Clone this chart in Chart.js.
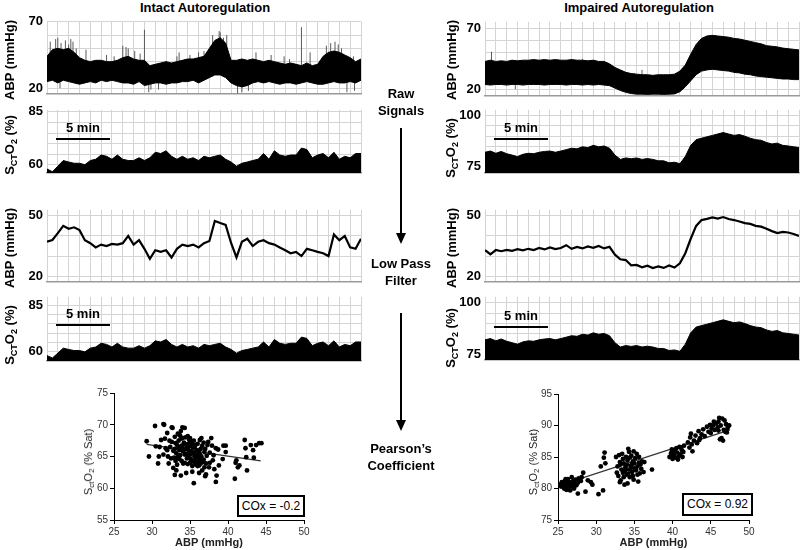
<!DOCTYPE html>
<html>
<head>
<meta charset="utf-8">
<script src="https://cdn.jsdelivr.net/npm/chart.js@4.4.1/dist/chart.umd.min.js"></script>
<style>
  body { margin: 0; background: #fff; }
  #page { position: relative; width: 800px; height: 550px; overflow: hidden; font-family: "Liberation Sans", Arial, sans-serif; color: #000; }
  canvas { position: absolute; }
  .head { position: absolute; top: 0; font-weight: bold; font-size: 13px; transform: translateX(-50%); white-space: nowrap; }
  .ytitle { position: absolute; font-weight: bold; font-size: 13px; white-space: nowrap; transform: translate(-50%, -50%) rotate(-90deg); }
  .ytitle.small { font-weight: normal; font-size: 11px; color: #222; }
  sub { font-size: 9px; vertical-align: -3px; line-height: 0; }
  .small sub { font-size: 8px; vertical-align: -2px; }
  .scale { position: absolute; font-weight: bold; font-size: 13px; width: 54px; text-align: center; }
  .scale div { border-top: 2.5px solid #000; margin-top: 3px; }
  .mid { position: absolute; left: 341px; width: 120px; text-align: center; font-weight: bold; font-size: 13px; line-height: 17px; }
  .cox { position: absolute; border: 2px solid #000; font-size: 12px; text-align: center; line-height: 18px; background: #fff; }
  svg { position: absolute; left: 0; top: 0; }
</style>
</head>
<body>
<div id="page">
  <div class="head" style="left:205px">Intact Autoregulation</div>
  <div class="head" style="left:639px">Impaired Autoregulation</div>

  <canvas id="sL1" width="360" height="96" style="left:2px;top:10px"></canvas>
  <canvas id="sL2" width="360" height="87" style="left:2px;top:98px"></canvas>
  <canvas id="sL3" width="360" height="96" style="left:2px;top:198px"></canvas>
  <canvas id="sL4" width="360" height="88" style="left:2px;top:285px"></canvas>
  <canvas id="sR1" width="360" height="98" style="left:440px;top:10px"></canvas>
  <canvas id="sR2" width="360" height="87" style="left:440px;top:98px"></canvas>
  <canvas id="sR3" width="360" height="96" style="left:440px;top:198px"></canvas>
  <canvas id="sR4" width="360" height="87" style="left:440px;top:285px"></canvas>
  <canvas id="scatL" width="230" height="165" style="left:84px;top:385px"></canvas>
  <canvas id="scatR" width="231" height="164" style="left:528px;top:386px"></canvas>

  <div class="ytitle" style="left:9px;top:60px">ABP (mmHg)</div>
  <div class="ytitle" style="left:9px;top:145px">S<sub>CT</sub>O<sub>2</sub> (%)</div>
  <div class="ytitle" style="left:9px;top:248px">ABP (mmHg)</div>
  <div class="ytitle" style="left:9px;top:335px">S<sub>CT</sub>O<sub>2</sub> (%)</div>
  <div class="ytitle" style="left:451px;top:60px">ABP (mmHg)</div>
  <div class="ytitle" style="left:450px;top:148px">S<sub>CT</sub>O<sub>2</sub> (%)</div>
  <div class="ytitle" style="left:451px;top:248px">ABP (mmHg)</div>
  <div class="ytitle" style="left:450px;top:338px">S<sub>CT</sub>O<sub>2</sub> (%)</div>
  <div class="ytitle small" style="left:88px;top:462px">S<sub>ct</sub>O<sub>2</sub> (% Sat)</div>
  <div class="ytitle small" style="left:533px;top:462px">S<sub>ct</sub>O<sub>2</sub> (% Sat)</div>

  <div class="scale" style="left:56px;top:120px">5 min<div></div></div>
  <div class="scale" style="left:56px;top:306px">5 min<div></div></div>
  <div class="scale" style="left:494px;top:120px">5 min<div></div></div>
  <div class="scale" style="left:494px;top:308px">5 min<div></div></div>

  <div class="mid" style="top:85px">Raw<br>Signals</div>
  <div class="mid" style="top:255px">Low Pass<br>Filter</div>
  <div class="mid" style="top:440px">Pearson’s<br>Coefficient</div>
  <svg width="800" height="550">
    <line x1="401" y1="128" x2="401" y2="236" stroke="#000" stroke-width="2"/>
    <polygon points="396,233 406,233 401,244" fill="#000"/>
    <line x1="401" y1="313" x2="401" y2="423" stroke="#000" stroke-width="2"/>
    <polygon points="396,420 406,420 401,431" fill="#000"/>
  </svg>

  <div class="cox" style="left:237px;top:495px;width:64px;height:18px">COx = -0.2</div>
  <div class="cox" style="left:682px;top:493px;width:67px;height:19px">COx = 0.92</div>
</div>

<script>
Chart.defaults.font.family = '"Liberation Sans", Arial, sans-serif';

// sample times in minutes (every 30 s over the 29 min recording)
const minutes = Array.from({ length: 59 }, (_, i) => i / 2);

// intact autoregulation, raw ABP band (upper / lower envelope, mmHg)
const abpRawLeftHigh = [44, 49, 50, 49, 50, 47, 43, 41, 40, 41,
  41, 40, 40, 41, 43, 44, 42, 41, 41, 37,
  38, 39, 40, 39, 40, 41, 42, 42, 43, 44,
  50, 56, 58, 54, 41, 41, 42, 41, 42, 41,
  40, 41, 40, 39, 38, 39, 38, 37, 39, 37,
  38, 44, 47, 48, 47, 45, 43, 40, 42];
const abpRawLeftLow = [25, 26, 24, 26, 25, 24, 23, 24, 25, 24,
  26, 25, 26, 25, 24, 24, 23, 25, 22, 23,
  24, 24, 23, 24, 24, 25, 25, 26, 24, 26,
  28, 30, 30, 28, 24, 22, 21, 22, 24, 25,
  24, 25, 24, 23, 24, 24, 23, 24, 25, 24,
  23, 23, 24, 25, 24, 24, 25, 24, 26];
const spikeLeftTime = [0.3, 0.8, 1.0, 1.3, 1.7, 2.0, 2.2, 2.4, 2.7, 3.6, 5.5, 6.2, 7.0, 7.3, 7.5, 8.1, 8.6, 9.0, 12.0, 12.2,
  13.2, 14.0, 14.5, 15.3, 15.9, 16.0, 16.3, 16.6, 19.3, 20.7, 21.9, 22.4, 23.5, 24.3, 25.8, 26.2, 26.6, 26.9, 27.2, 28.3,
  1.2, 9.4, 9.6, 10.3, 17.6, 18.0, 18.6, 27.7, 28.4];
const spikeLeftTop = [55, 57, 58, 54, 56, 53, 57, 55, 50, 49, 45, 44, 52, 51, 50, 48, 46, 64, 44, 47,
  45, 47, 48, 60, 63, 62, 58, 60, 47, 45, 44, 42, 66, 47, 52, 54, 55, 53, 50, 44,
  30, 30, 30, 30, 30, 30, 30, 30, 30];
const spikeLeftBottom = [30, 30, 30, 30, 30, 30, 30, 30, 30, 25, 30, 30, 30, 30, 30, 25, 30, 30, 30, 30,
  30, 30, 30, 30, 30, 30, 30, 30, 28, 30, 30, 30, 30, 30, 30, 30, 30, 30, 30, 30,
  20, 17, 19, 19, 16, 17, 18, 17, 18];

// intact autoregulation, SctO2 (%)
const sctLeft = [58, 56.7, 59.3, 62, 61.3, 60.7, 60.7, 60, 62, 62.6,
  64.6, 64, 62.6, 64.6, 62.6, 62, 62, 63.3, 62, 63.3,
  65.9, 65.3, 66.6, 64, 62.6, 64, 62.6, 63.3, 62, 64,
  63.3, 64, 64.6, 62.6, 61.3, 59.3, 60.7, 61.3, 62, 62.6,
  65.3, 62.6, 66.6, 64.6, 64, 64.6, 64.6, 67.9, 67.2, 63.3,
  64.6, 65.3, 63.3, 65.9, 62.6, 64, 63.3, 65.3, 65.3];

// intact autoregulation, low pass ABP (mmHg)
const abpLpfLeft = [37.1, 38.0, 41.4, 45.0, 43.6, 44.3, 42.9, 37.9, 36.4, 34.3,
  35.7, 35.0, 36.0, 35.7, 36.4, 40.0, 35.7, 37.9, 33.6, 28.6,
  32.9, 32.1, 32.9, 29.3, 33.6, 35.7, 35.0, 35.7, 34.3, 36.4,
  37.5, 47.4, 46.4, 45.5, 36.5, 29.3, 37.1, 38.6, 35.0, 37.1,
  37.9, 36.4, 35.7, 34.3, 32.9, 31.4, 32.1, 30.0, 33.6, 32.9,
  32.1, 31.4, 30.0, 40.7, 37.9, 40.0, 34.3, 33.6, 38.6];

// impaired autoregulation, raw ABP band (mmHg)
const abpRawRightHigh = [43, 44, 43, 43.5, 43, 44, 43.5, 44, 44, 44.5,
  44, 44.5, 44, 44.5, 44, 44, 44.5, 44, 44, 43.5,
  44, 43, 43, 41, 38, 36, 34, 33, 32.5, 32,
  32, 31.5, 32, 32, 32, 32.5, 35, 40, 49, 57,
  62, 64, 64.5, 64, 63.5, 63, 62, 61.5, 60.5, 59.5,
  58.5, 57.5, 56, 55.5, 55, 54, 53.5, 53, 52.5];
const abpRawRightLow = [24, 23.5, 24, 24, 23.5, 24, 24, 23.5, 24, 24,
  24, 23.5, 24, 24, 24, 23.5, 24, 24, 23.5, 24,
  23.5, 24, 23.5, 23, 21, 19, 17.5, 16.5, 16, 16,
  15.8, 16, 16, 15.8, 16, 16.2, 18, 22, 27, 32,
  35, 36, 36.5, 36, 35.5, 35, 34, 33.5, 32.5, 32,
  31, 30.5, 30, 29.5, 29, 28.5, 28.5, 28, 28];
const spikeRightTime = [0.6, 2.8, 9.0, 12.6, 13.8, 14.5];
const spikeRightTop = [51, 44, 45, 35, 33, 36];
const spikeRightBottom = [30, 20, 30, 20, 16, 18];

// impaired autoregulation, SctO2 (%)
const sctRight = [82, 82.6, 81.5, 82.4, 81.3, 80.6, 79.9, 81, 81.5, 81.3,
  82, 82.4, 82.6, 82, 82.6, 83.3, 84, 83.7, 84.7, 84.3,
  85.4, 84.7, 85.1, 84, 80.6, 78.5, 79.2, 78.8, 79.2, 78.5,
  78.9, 78.5, 77.8, 77.8, 76.8, 77.1, 76.4, 79.9, 85.4, 88.2,
  88.9, 89.6, 90.3, 91, 91.7, 91, 90.3, 90.7, 89.9, 88.9,
  88.2, 87.9, 86.8, 86.1, 86.5, 85.4, 85.1, 84.7, 84.3];

// impaired autoregulation, low pass ABP (mmHg)
const abpLpfRight = [32.9, 30.9, 33.0, 32.4, 33.1, 32.6, 33.4, 32.8, 33.6, 33.0,
  34.0, 33.3, 34.3, 33.5, 34.0, 35.4, 33.6, 34.5, 33.8, 34.8,
  34.1, 35.0, 33.8, 34.6, 30.7, 28.4, 28.0, 25.4, 25.6, 24.4,
  25.2, 24.0, 24.8, 24.1, 25.3, 24.3, 26.4, 31.4, 38.6, 45.0,
  47.9, 48.5, 49.2, 48.6, 49.4, 48.4, 47.9, 47.2, 46.4, 46.0,
  45.0, 44.6, 43.6, 42.4, 41.4, 42.0, 41.7, 41.0, 40.0];

// scatter: ABP vs SctO2, intact
const scatterLeftAbp = [29.3, 29.6, 30.4, 30.8, 31.5, 31.6, 30.9, 31.2, 31.5, 31.7, 32.0, 32.1, 32.4, 32.6, 32.7, 32.8, 33.0, 33.2, 33.4, 33.6,
  33.8, 34.0, 34.3, 34.7, 35.0, 35.3, 35.5, 36.2, 36.6, 37.0, 37.1, 37.5, 37.8, 38.2, 38.4, 38.5, 38.8, 38.4, 38.7, 39.3,
  39.7, 39.7, 39.4, 40.9, 41.0, 41.1, 41.3, 41.5, 42.2, 42.3, 42.4, 42.5, 43.0, 43.3, 43.7, 44.1, 44.4, 43.4, 36.3, 36.8,
  37.3, 37.6, 38.0, 36.0, 36.6, 33.0, 33.1, 33.2, 33.3, 33.4, 33.5, 33.6, 33.7, 33.8, 33.9, 34.0, 34.1, 34.2, 34.3, 34.4,
  34.5, 34.6, 34.7, 34.8, 34.9, 35.0, 35.1, 35.2, 35.3, 35.4, 35.5, 35.6, 35.7, 35.8, 35.9, 36.0, 36.1, 36.2, 36.3, 36.4,
  36.5, 36.7, 36.9, 32.6, 32.8, 32.9, 33.0, 33.3, 33.5, 33.7, 33.9, 34.1, 34.2, 34.4, 34.6, 34.8, 35.0, 35.2, 35.4, 35.6,
  35.8, 36.0, 36.2, 36.4, 36.6, 36.8, 37.0, 37.2, 37.4, 37.6, 32.0, 32.3, 32.5, 31.8, 31.0, 30.5, 32.2, 34.9, 35.5, 34.3,
  34.7, 35.1, 35.3, 35.6, 35.9, 36.1, 36.3, 33.6, 33.1, 34.0, 35.7, 36.5, 37.9, 38.1, 37.1, 36.9, 34.5, 33.8];
const scatterLeftSct = [67.4, 65.0, 69.8, 63.9, 70.1, 70.0, 65.0, 67.6, 65.3, 67.8, 68.7, 65.0, 66.5, 69.6, 69.5, 63.2, 62.1, 62.8, 68.6, 68.4,
  69.0, 69.6, 69.5, 68.2, 67.9, 62.6, 60.8, 62.4, 62.8, 61.9, 62.2, 63.3, 67.9, 63.0, 61.0, 62.0, 63.6, 66.3, 66.1, 64.6,
  66.7, 65.7, 66.7, 61.5, 64.0, 64.4, 63.3, 63.6, 67.6, 66.3, 64.9, 62.8, 66.8, 66.0, 66.8, 67.1, 67.1, 64.8, 67.6, 67.2,
  66.8, 65.6, 64.4, 63.5, 64.2, 66.2, 67.1, 65.5, 66.8, 64.9, 67.5, 66.0, 65.2, 67.8, 64.3, 66.5, 65.8, 67.2, 64.0, 66.9,
  65.4, 66.3, 63.8, 67.0, 65.9, 66.6, 64.6, 65.8, 66.9, 64.2, 65.6, 66.4, 63.9, 65.1, 66.0, 64.8, 65.5, 63.6, 64.5, 66.2,
  65.0, 64.1, 65.7, 67.3, 65.9, 64.8, 68.1, 63.7, 66.5, 68.3, 66.7, 63.9, 66.1, 68.0, 64.7, 65.2, 64.0, 67.4, 66.4, 65.0,
  63.7, 67.0, 65.9, 63.9, 66.7, 64.5, 66.2, 65.1, 67.3, 64.0, 66.0, 67.5, 64.7, 66.3, 66.5, 66.6, 63.9, 67.6, 67.5, 65.3,
  66.1, 65.3, 63.5, 64.4, 64.9, 64.1, 65.3, 64.6, 64.3, 67.9, 66.8, 67.9, 66.7, 65.2, 63.9, 63.3, 62.4, 62.0];
const fitLeftAbp = [29.3, 44.3];
const fitLeftSct = [66.9, 64.3];

// scatter: ABP vs SctO2, impaired
const scatterRightAbp = [25.2, 25.4, 25.6, 25.8, 25.9, 26.0, 26.1, 26.2, 26.3, 26.4, 26.5, 26.6, 26.7, 26.8, 26.9, 27.0, 27.1, 27.2, 27.3, 27.4,
  27.5, 27.6, 25.5, 26.0, 26.5, 27.0, 26.3, 25.7, 27.7, 28.0, 27.6, 28.1, 28.3, 28.6, 28.9, 29.3, 29.5, 30.3, 30.6, 30.9,
  31.0, 31.1, 31.2, 32.6, 32.8, 32.9, 33.0, 33.1, 33.2, 33.3, 33.4, 33.5, 33.6, 33.7, 33.8, 33.9, 34.0, 34.1, 34.2, 34.3,
  34.4, 34.5, 34.6, 34.7, 34.8, 34.9, 35.0, 35.1, 35.2, 35.3, 35.4, 35.5, 35.6, 35.7, 35.8, 36.0, 36.2, 33.2, 33.5, 33.8,
  34.0, 34.2, 34.4, 34.6, 34.8, 35.0, 35.2, 35.4, 34.3, 33.6, 34.9, 33.9, 34.7, 35.6, 32.7, 33.1, 34.1, 35.9, 36.3, 37.3,
  39.6, 39.8, 40.0, 40.1, 40.2, 40.4, 40.5, 40.6, 40.8, 40.9, 41.0, 41.2, 41.3, 41.5, 40.3, 40.7, 39.9, 41.1, 41.4, 40.0,
  42.0, 42.2, 42.3, 42.5, 42.6, 42.8, 43.0, 43.2, 43.4, 43.6, 43.8, 44.0, 44.2, 42.4, 43.5, 44.5, 44.7, 44.9, 45.1, 45.3,
  45.5, 45.7, 45.9, 46.0, 46.1, 46.3, 46.4, 46.5, 46.6, 46.7, 46.8, 46.9, 47.0, 47.2, 47.4, 46.2, 45.0, 45.4, 46.0, 47.1];
const scatterRightSct = [80.6, 80.3, 80.8, 80.0, 81.2, 80.5, 79.8, 80.9, 81.5, 80.2, 81.0, 79.7, 80.6, 81.8, 80.3, 81.2, 80.0, 80.8, 81.4, 80.5,
  81.0, 80.9, 81.0, 81.5, 80.4, 80.6, 79.9, 80.4, 81.6, 81.2, 79.2, 81.8, 82.5, 79.5, 81.3, 81.0, 80.6, 79.1, 83.5, 79.7,
  84.9, 85.7, 84.0, 85.0, 83.5, 82.0, 85.3, 84.2, 81.3, 83.0, 85.5, 82.5, 84.0, 80.6, 83.3, 85.0, 82.2, 84.5, 86.3, 83.0,
  81.8, 83.6, 85.2, 82.6, 84.3, 81.4, 83.2, 84.8, 82.9, 85.5, 83.5, 81.1, 84.1, 82.4, 83.8, 84.3, 82.6, 83.8, 84.7, 82.8,
  83.8, 82.3, 84.9, 83.3, 82.0, 84.0, 83.0, 82.2, 85.8, 81.8, 85.9, 83.6, 83.9, 85.0, 82.5, 81.0, 80.8, 83.1, 84.2, 83.0,
  85.0, 85.6, 84.7, 86.0, 85.3, 84.9, 86.4, 85.7, 85.1, 86.6, 85.4, 86.1, 85.0, 86.8, 85.9, 84.6, 86.2, 86.5, 85.8, 85.3,
  87.3, 86.5, 88.1, 87.0, 85.9, 87.6, 88.4, 87.2, 89.1, 88.0, 88.6, 89.4, 88.3, 88.7, 87.7, 89.8, 89.0, 90.1, 89.5, 90.0,
  89.3, 90.3, 89.7, 90.6, 91.2, 90.0, 88.0, 91.1, 87.6, 89.3, 90.8, 89.0, 90.2, 89.6, 90.0, 87.8, 88.8, 90.6, 89.2, 88.9];
const fitRightAbp = [25, 47.5];
const fitRightSct = [80.4, 89.3];

function pts(xs, ys) {
  return xs.map((x, i) => ({ x: x, y: ys[i] }));
}

// vertical hair-line spikes, broken apart with null points
function spikes(ts, tops, bottoms) {
  return ts.flatMap((t, i) => [{ x: t, y: bottoms[i] }, { x: t, y: tops[i] }, { x: t, y: null }]);
}

const gridColor = '#d4d4d4';

function signalChart(id, yMin, yMax, yLabels, yGrid, datasets) {
  return new Chart(document.getElementById(id), {
    type: 'line',
    data: { datasets: datasets },
    options: {
      responsive: false,
      animation: false,
      layout: { padding: { top: 10, bottom: 2, right: 1 } },
      plugins: { legend: { display: false }, tooltip: { enabled: false } },
      elements: { point: { radius: 0 }, line: { tension: 0 } },
      scales: {
        x: {
          type: 'linear', min: 0, max: 29, offset: false,
          ticks: { display: false, stepSize: 1 },
          grid: { color: gridColor, drawTicks: false, offset: false },
          border: { display: true, color: '#9a9a9a', width: 1.5 },
          afterFit: s => { s.height = 0; }
        },
        y: {
          min: yMin, max: yMax,
          afterBuildTicks: s => { s.ticks = yGrid.map(v => ({ value: v })); },
          ticks: {
            autoSkip: false, padding: 4, color: '#000',
            font: { size: 13, weight: 'bold' },
            callback: v => yLabels.includes(v) ? String(v) : ''
          },
          grid: { color: gridColor, drawTicks: false },
          border: { display: false },
          afterFit: s => { s.width = 45; }
        }
      }
    }
  });
}

function band(high, low, spikeT, spikeTop, spikeBottom) {
  return [
    { data: pts(minutes, high), fill: '+1', backgroundColor: '#000', borderColor: '#000', borderWidth: 1 },
    { data: pts(minutes, low), fill: false, borderColor: '#000', borderWidth: 1 },
    { data: spikes(spikeT, spikeTop, spikeBottom), fill: false, borderColor: '#5a5a5a', borderWidth: 1, spanGaps: false }
  ];
}

function area(values) {
  return [{ data: pts(minutes, values), fill: 'start', backgroundColor: '#000', borderColor: '#000', borderWidth: 1 }];
}

function trace(values) {
  return [{ data: pts(minutes, values), fill: false, borderColor: '#000', borderWidth: 2.2 }];
}

signalChart('sL1', 15.5, 70, [20, 70], [20, 30, 40, 50, 60, 70], band(abpRawLeftHigh, abpRawLeftLow, spikeLeftTime, spikeLeftTop, spikeLeftBottom));
signalChart('sL2', 56, 86, [60, 85], [60, 65, 70, 75, 80, 85], area(sctLeft));
signalChart('sL3', 17, 53, [20, 50], [20, 30, 40, 50], trace(abpLpfLeft));
signalChart('sL4', 55, 89.5, [60, 85], [60, 65, 70, 75, 80, 85], area(sctLeft));
signalChart('sR1', 14.3, 75.7, [20, 70], [20, 30, 40, 50, 60, 70], band(abpRawRightHigh, abpRawRightLow, spikeRightTime, spikeRightTop, spikeRightBottom));
signalChart('sR2', 71.7, 102.9, [75, 100], [75, 80, 85, 90, 95, 100], area(sctRight));
signalChart('sR3', 17, 53, [20, 50], [20, 30, 40, 50], trace(abpLpfRight));
signalChart('sR4', 72.1, 102.9, [75, 100], [75, 80, 85, 90, 95, 100], area(sctRight));

function scatterChart(id, xs, ys, fitX, fitY, yMin, yMax) {
  const axisTicks = { color: '#333', font: { size: 10 }, padding: 2 };
  const axisGrid = { display: true, drawOnChartArea: false, drawTicks: true, tickLength: 4, color: '#000' };
  return new Chart(document.getElementById(id), {
    type: 'scatter',
    data: {
      datasets: [
        { data: pts(xs, ys), pointRadius: 2.4, backgroundColor: '#000', borderWidth: 0 },
        { type: 'line', data: pts(fitX, fitY), borderColor: '#333', borderWidth: 1.3, pointRadius: 0, fill: false }
      ]
    },
    options: {
      responsive: false,
      animation: false,
      layout: { padding: { top: 8, right: 10 } },
      plugins: { legend: { display: false }, tooltip: { enabled: false } },
      scales: {
        x: {
          type: 'linear', min: 25, max: 50,
          ticks: Object.assign({ stepSize: 5 }, axisTicks),
          grid: axisGrid,
          border: { color: '#000', width: 1 },
          title: { display: true, text: 'ABP (mmHg)', color: '#222', font: { size: 11, weight: 'bold' }, padding: { top: 0, bottom: 0 } },
          afterFit: s => { s.height = 30; }
        },
        y: {
          min: yMin, max: yMax,
          ticks: Object.assign({ stepSize: 5 }, axisTicks),
          grid: axisGrid,
          border: { color: '#000', width: 1 },
          afterFit: s => { s.width = 30; }
        }
      }
    }
  });
}

scatterChart('scatL', scatterLeftAbp, scatterLeftSct, fitLeftAbp, fitLeftSct, 55, 75);
scatterChart('scatR', scatterRightAbp, scatterRightSct, fitRightAbp, fitRightSct, 75, 95);
</script>
</body>
</html>
